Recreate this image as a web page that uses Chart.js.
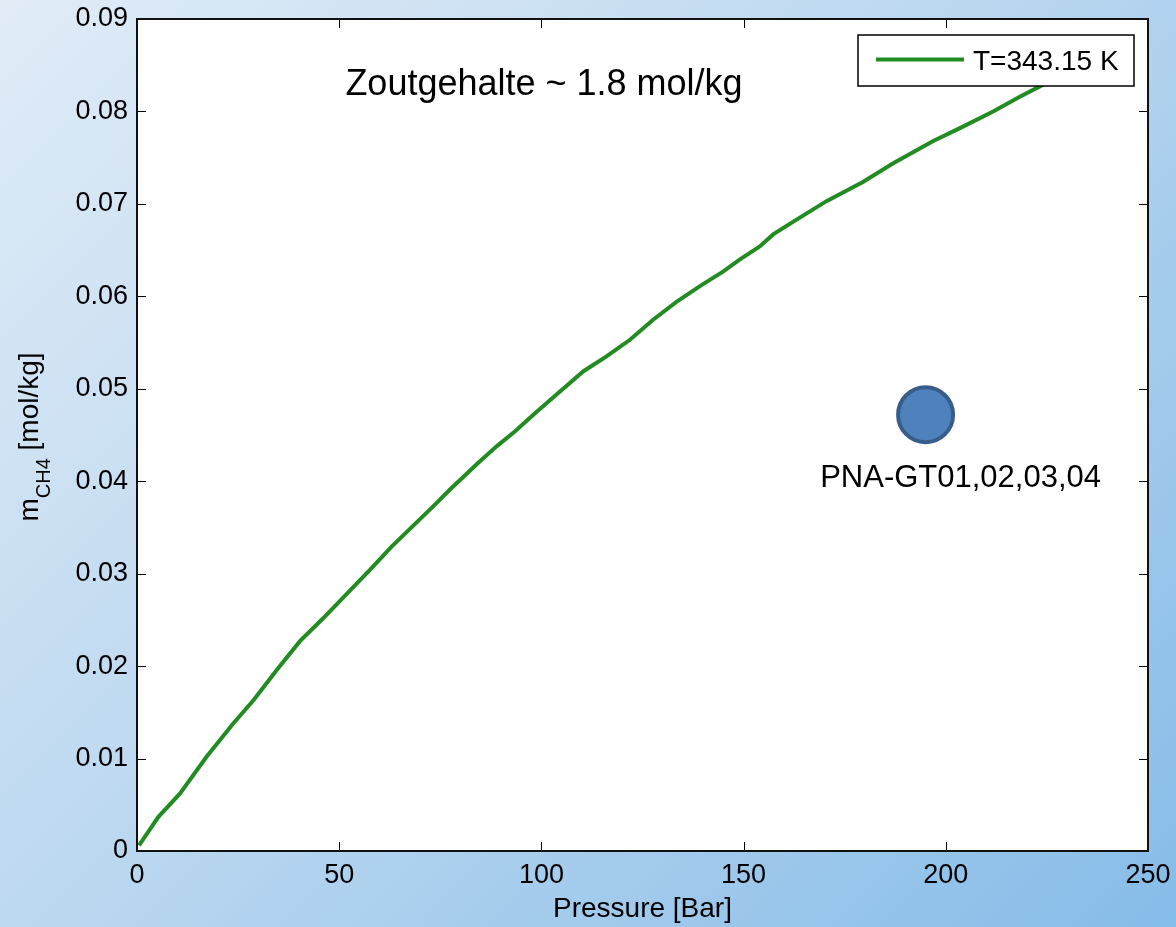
<!doctype html>
<html>
<head>
<meta charset="utf-8">
<title>m_CH4 vs pressure</title>
<style>
html, body {margin: 0; padding: 0;}
body {
    width: 1176px; height: 927px; overflow: hidden;
    background: linear-gradient(135deg, #e1ecf7 0%, #bcd8f0 45%, #86bce8 100%);
}
canvas {display: block;}
</style>
</head>
<body>
<canvas id="chart" width="1176" height="927"></canvas>
<script src="https://cdn.jsdelivr.net/npm/chart.js"></script>
<script>
// solubility curve
let pressure = [0.5, 5.3, 10.6, 17.2, 23.8, 28.8, 34.6, 40.3, 46.1, 52.7, 57.6, 62.9,
    73.3, 77.4, 84.4, 89, 93.5, 98, 104.6, 110.4, 116.1, 121.9, 127.7, 133.4, 139.2,
    145, 149.1, 154, 157.3, 163.1, 170.5, 179.6, 187, 196.9, 203.5, 211.7, 218.3, 224.1]
let mch4 = [0.0006, 0.0037, 0.0062, 0.0102, 0.0138, 0.0163, 0.0196, 0.0227, 0.0252, 0.0282, 0.0304, 0.0329,
    0.0373, 0.0391, 0.0420, 0.0438, 0.0454, 0.0472, 0.0497, 0.0519, 0.0535, 0.0553, 0.0575, 0.0594, 0.0611,
    0.0627, 0.0640, 0.0654, 0.0667, 0.0683, 0.0703, 0.0724, 0.0744, 0.0768, 0.0782, 0.0800, 0.0816, 0.0829]

let samplePressure = [195]
let sampleM = [0.0472]
let sampleLabel = 'PNA-GT01,02,03,04'

let curveLabel = 'T=343.15 K'
let title = 'Zoutgehalte ~ 1.8 mol/kg'
let xTitle = 'Pressure [Bar]'

let xTicks = [0, 50, 100, 150, 200, 250]
let yTicks = [0, 0.01, 0.02, 0.03, 0.04, 0.05, 0.06, 0.07, 0.08, 0.09]

let font = '"Liberation Sans", Arial, Helvetica, sans-serif'
let green = '#228b22'

// white plot area, inward ticks on all sides, frame, texts, legend
let matlabish = {
    id: 'matlabish',
    beforeDraw(chart) {
        let {ctx, chartArea: a} = chart
        ctx.save()
        ctx.fillStyle = '#fff'
        ctx.fillRect(a.left, a.top, a.right - a.left, a.bottom - a.top)
        ctx.restore()
    },
    afterDraw(chart) {
        let {ctx, chartArea: a, scales} = chart
        ctx.save()
        ctx.strokeStyle = '#000'
        ctx.lineWidth = 1
        ctx.beginPath()
        for (let v of xTicks) {
            let px = Math.round(scales.x.getPixelForValue(v)) + 0.5
            ctx.moveTo(px, a.bottom); ctx.lineTo(px, a.bottom - 9)
            ctx.moveTo(px, a.top); ctx.lineTo(px, a.top + 9)
        }
        for (let v of yTicks) {
            let py = Math.round(scales.y.getPixelForValue(v)) + 0.5
            ctx.moveTo(a.left, py); ctx.lineTo(a.left + 9, py)
            ctx.moveTo(a.right, py); ctx.lineTo(a.right - 9, py)
        }
        ctx.stroke()

        ctx.lineWidth = 2
        ctx.strokeStyle = '#111'
        ctx.strokeRect(a.left, a.top, a.right - a.left, a.bottom - a.top)

        // title inside the plot
        ctx.fillStyle = '#000'
        ctx.textBaseline = 'alphabetic'
        ctx.textAlign = 'center'
        ctx.font = '36px ' + font
        ctx.fillText(title, 544, 95)

        // label under the sample point
        let sx = scales.x.getPixelForValue(samplePressure[0])
        let sy = scales.y.getPixelForValue(sampleM[0])
        ctx.font = '31px ' + font
        ctx.fillText(sampleLabel, sx + 35, sy + 72)

        // x axis title
        ctx.font = '28px ' + font
        ctx.fillText(xTitle, (a.left + a.right) / 2, 917)

        // y axis title with subscript, rotated
        ctx.translate(38, 437)
        ctx.rotate(-Math.PI / 2)
        ctx.textAlign = 'left'
        let big = '28px ' + font, small = '20px ' + font
        ctx.font = big
        let wm = ctx.measureText('m').width
        let wr = ctx.measureText(' [mol/kg]').width
        ctx.font = small
        let ws = ctx.measureText('CH4').width
        let x0 = -(wm + ws + wr) / 2
        ctx.font = big
        ctx.fillText('m', x0, 0)
        ctx.font = small
        ctx.fillText('CH4', x0 + wm, 12)
        ctx.font = big
        ctx.fillText(' [mol/kg]', x0 + wm + ws, 0)
        ctx.setTransform(1, 0, 0, 1, 0, 0)

        // legend box
        ctx.fillStyle = '#fff'
        ctx.fillRect(858, 35, 276, 51)
        ctx.lineWidth = 1.5
        ctx.strokeStyle = '#000'
        ctx.strokeRect(858, 35, 276, 51)
        ctx.strokeStyle = green
        ctx.lineWidth = 4
        ctx.beginPath()
        ctx.moveTo(876, 59.5); ctx.lineTo(964, 59.5)
        ctx.stroke()
        ctx.fillStyle = '#000'
        ctx.font = '28px ' + font
        ctx.textAlign = 'left'
        ctx.fillText(curveLabel, 973, 70)
        ctx.restore()
    }
}

new Chart(document.getElementById('chart'), {
    type: 'scatter',
    data: {
        datasets: [
            {
                label: curveLabel,
                data: pressure.map((p, i) => ({x: p, y: mch4[i]})),
                showLine: true,
                borderColor: green,
                backgroundColor: green,
                borderWidth: 4,
                pointRadius: 0,
                tension: 0,
                order: 2
            },
            {
                label: sampleLabel,
                data: samplePressure.map((p, i) => ({x: p, y: sampleM[i]})),
                pointRadius: 27.5,
                backgroundColor: '#4f81bd',
                borderColor: '#385d8a',
                borderWidth: 4,
                order: 1
            }
        ]
    },
    options: {
        responsive: false,
        animation: false,
        devicePixelRatio: 1,
        // the big sample marker would otherwise push the plot area in
        layout: {autoPadding: false, padding: {top: 19, right: 28, left: 0, bottom: 0}},
        plugins: {legend: {display: false}, tooltip: {enabled: false}},
        scales: {
            x: {
                type: 'linear', min: 0, max: 250,
                afterFit(scale) {
                    scale.height = 76
                    scale.paddingLeft = 0
                    scale.paddingRight = 0
                },
                afterBuildTicks(scale) { scale.ticks = xTicks.map(v => ({value: v})) },
                grid: {display: false, drawTicks: false},
                border: {display: false},
                ticks: {color: '#000', font: {size: 27, family: font}, padding: 8, maxRotation: 0}
            },
            y: {
                type: 'linear', min: 0, max: 0.09,
                afterFit(scale) {
                    scale.width = 137
                    scale.paddingTop = 0
                    scale.paddingBottom = 0
                },
                afterBuildTicks(scale) { scale.ticks = yTicks.map(v => ({value: v})) },
                grid: {display: false, drawTicks: false},
                border: {display: false},
                ticks: {
                    color: '#000', font: {size: 27, family: font}, padding: 9,
                    callback: v => v === 0 ? '0' : v.toFixed(2)
                }
            }
        }
    },
    plugins: [matlabish]
})
</script>
</body>
</html>
